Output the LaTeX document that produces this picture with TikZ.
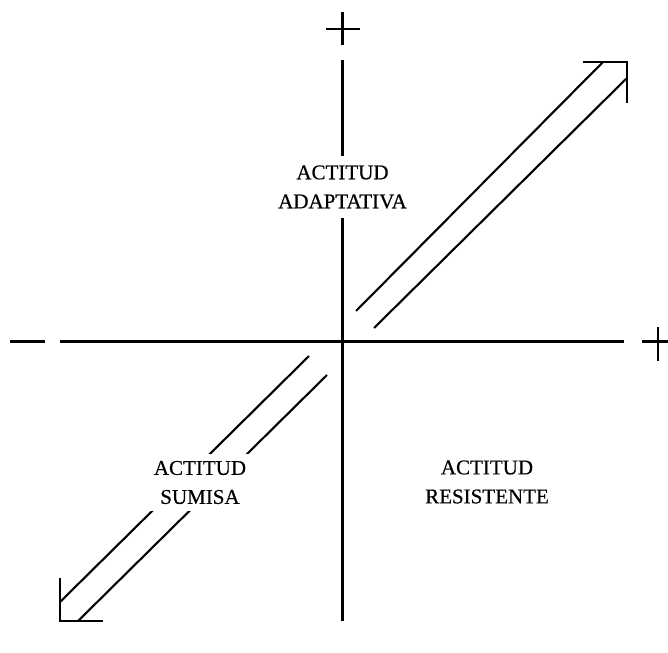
\documentclass[tikz,border=0pt]{standalone}
\usepackage{fontspec}
\setmainfont{Liberation Serif}
\newfontfamily\scanfont{Liberation Serif}[UprightFeatures={FakeBold=0.5}]
\begin{document}
\begin{tikzpicture}[x=1pt,y=-1pt,
  stroke/.style={line width=2.1pt, line cap=butt},
  label/.style={fill=white, inner sep=8pt, align=center,
    font=\scanfont\fontsize{21}{29}\selectfont}]
\useasboundingbox (0,0) rectangle (668,652);
% axes end points
\coordinate (vtop) at (342.5,60);
\coordinate (vbot) at (342.5,621);
\coordinate (hleft) at (60,341.5);
\coordinate (hright) at (624,341.5);
% signs
\coordinate (ptopA) at (342.5,12);
\coordinate (ptopB) at (342.5,45);
\coordinate (ptopC) at (326,29);
\coordinate (ptopD) at (360,29);
\coordinate (mleftA) at (10,341.5);
\coordinate (mleftB) at (45,341.5);
\coordinate (prightA) at (658,327);
\coordinate (prightB) at (658,361);
\coordinate (prightC) at (642,341.5);
\coordinate (prightD) at (670,341.5);
% upper right arrow
\coordinate (urA1) at (356,311);
\coordinate (urA2) at (603,62);
\coordinate (urB1) at (374,328);
\coordinate (urB2) at (627,78);
\coordinate (urH) at (583,62);
\coordinate (urC) at (627,62);
\coordinate (urV) at (627,103);
% lower left arrow
\coordinate (llA1) at (309,356);
\coordinate (llA2) at (60,602);
\coordinate (llB1) at (327,375);
\coordinate (llB2) at (78,621);
\coordinate (llV) at (60,578);
\coordinate (llC) at (60,621);
\coordinate (llH) at (103,621);

\draw[stroke] (vtop) -- (vbot);
\draw[stroke] (hleft) -- (hright);
\draw[stroke] (ptopA) -- (ptopB);
\draw[stroke] (ptopC) -- (ptopD);
\draw[stroke] (mleftA) -- (mleftB);
\draw[stroke] (prightA) -- (prightB);
\draw[stroke] (prightC) -- (prightD);

\draw[stroke] (urA1) -- (urA2);
\draw[stroke] (urB1) -- (urB2);
\draw[stroke] (urH) -- (urC) -- (urV);
\draw[stroke] (llA1) -- (llA2);
\draw[stroke] (llB1) -- (llB2);
\draw[stroke] (llV) -- (llC) -- (llH);

\node[label, inner ysep=9pt] (adapt) at (342.5,187) {ACTITUD\\ADAPTATIVA};
\node[label, inner sep=7pt] (sumisa) at (200,482.5) {ACTITUD\\SUMISA};
\node[label] (resist) at (487,482) {ACTITUD\\RESISTENTE};
\end{tikzpicture}
\end{document}
